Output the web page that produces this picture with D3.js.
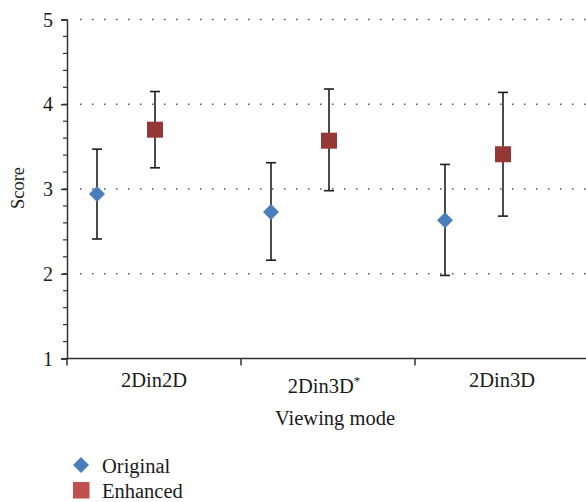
<!DOCTYPE html>
<html><head><meta charset="utf-8">
<script src="https://cdn.jsdelivr.net/npm/d3@7"></script>
<style>body{margin:0;background:#fff}svg{display:block}text{font-family:"Liberation Serif","Times New Roman","DejaVu Serif",serif;fill:#1a1a1a}</style>
</head><body>
<script>
const categories = ["2Din2D", "2Din3D*", "2Din3D"];
const seriesNames = ["Original", "Enhanced"];
const originalMean = [2.94, 2.73, 2.63];
const originalHigh = [3.47, 3.31, 3.29];
const originalLow  = [2.41, 2.16, 1.98];
const enhancedMean = [3.70, 3.57, 3.41];
const enhancedHigh = [4.15, 4.18, 4.14];
const enhancedLow  = [3.25, 2.98, 2.68];
const yTicks = [1, 2, 3, 4, 5];

const W = 586, H = 502;
const svg = d3.select("body").append("svg").attr("width", W).attr("height", H);
const x = d3.scaleBand().domain(categories).range([67, 589]);
const y = d3.scaleLinear().domain([1, 5]).range([358.5, 19.5]);

// grid
svg.append("g").selectAll("line").data(yTicks.filter(d => d > 1)).join("line")
  .attr("x1", 80).attr("x2", W).attr("y1", d => y(d)).attr("y2", d => y(d))
  .attr("stroke", "#555").attr("stroke-width", 1.5).attr("stroke-dasharray", "1.5,10.5");

// y axis minor ticks
const minor = d3.range(1, 5.001, 0.2);
svg.append("g").selectAll("line").data(minor).join("line")
  .attr("x1", 63).attr("x2", 67).attr("y1", d => y(d)).attr("y2", d => y(d))
  .attr("stroke", "#333").attr("stroke-width", 1.2);
const yAxis = d3.axisLeft(y).tickValues(yTicks).tickFormat(d3.format("d")).tickSize(6).tickPadding(8);
const gy = svg.append("g").attr("transform", "translate(67,0)").call(yAxis);
gy.attr("font-family", null).attr("font-size", null);
gy.select(".domain").attr("stroke", "#333").attr("stroke-width", 1.5);
gy.selectAll(".tick line").attr("stroke", "#333").attr("stroke-width", 1.5);
gy.selectAll(".tick text").attr("font-size", 20).attr("fill", "#1a1a1a").attr("dy", "0.33em");

// x axis
svg.append("line").attr("x1", 67).attr("x2", W).attr("y1", y(1)).attr("y2", y(1))
  .attr("stroke", "#333").attr("stroke-width", 1.5);
const bounds = categories.map(c => x(c));
svg.append("g").selectAll("line").data(bounds).join("line")
  .attr("x1", d => d).attr("x2", d => d).attr("y1", y(1)).attr("y2", y(1) + 7)
  .attr("stroke", "#333").attr("stroke-width", 1.5);

svg.append("g").selectAll("text").data(categories).join("text")
  .attr("x", d => x(d) + x.bandwidth() / 2 - (d.endsWith("*") ? 4 : 0))
  .attr("y", d => d.endsWith("*") ? 393 : 387)
  .attr("text-anchor", "middle").attr("font-size", 20.5)
  .each(function(d) {
    const t = d3.select(this);
    if (d.endsWith("*")) {
      t.append("tspan").text(d.slice(0, -1));
      t.append("tspan").text("*").attr("font-size", 13).attr("dy", -8);
    } else t.text(d);
  });

svg.append("text").attr("x", 335).attr("y", 425).attr("text-anchor", "middle").attr("font-size", 20.5).text("Viewing mode");
svg.append("text").attr("transform", "translate(24,188) rotate(-90)").attr("text-anchor", "middle").attr("font-size", 18.5).text("Score");

const xo = c => x(c) + 30;
const xe = c => x(c) + x.bandwidth() / 2 + 1;
const errColor = "#1e1e1e";
function errBars(xf, lo, hi) {
  const g = svg.append("g");
  categories.forEach((c, i) => {
    const cx = xf(c);
    g.append("line").attr("x1", cx).attr("x2", cx).attr("y1", y(hi[i])).attr("y2", y(lo[i])).attr("stroke", errColor).attr("stroke-width", 1.6);
    [hi[i], lo[i]].forEach(v => g.append("line").attr("x1", cx - 5).attr("x2", cx + 5).attr("y1", y(v)).attr("y2", y(v)).attr("stroke", errColor).attr("stroke-width", 1.6));
  });
}
errBars(xo, originalLow, originalHigh);
errBars(xe, enhancedLow, enhancedHigh);

const diamond = d3.symbol().type(d3.symbolSquare).size(128);
svg.append("g").selectAll("path").data(categories).join("path")
  .attr("d", diamond)
  .attr("transform", (c, i) => `translate(${xo(c)},${y(originalMean[i])}) rotate(45)`)
  .attr("fill", "#4a7ebb");
svg.append("g").selectAll("rect").data(categories).join("rect")
  .attr("x", c => xe(c) - 8).attr("y", (c, i) => y(enhancedMean[i]) - 8)
  .attr("width", 16).attr("height", 16).attr("fill", "#953735");

// legend
const lg = svg.append("g");
lg.append("path").attr("d", d3.symbol().type(d3.symbolSquare).size(128)()).attr("transform", "translate(81,465) rotate(45)").attr("fill", "#4a7ebb");
lg.append("rect").attr("x", 73).attr("y", 482).attr("width", 16.5).attr("height", 16.5).attr("fill", "#c0504d");
lg.append("text").attr("x", 102).attr("y", 473).attr("font-size", 20.5).text(seriesNames[0]);
lg.append("text").attr("x", 102).attr("y", 498).attr("font-size", 20.5).text(seriesNames[1]);
</script>
</body></html>
